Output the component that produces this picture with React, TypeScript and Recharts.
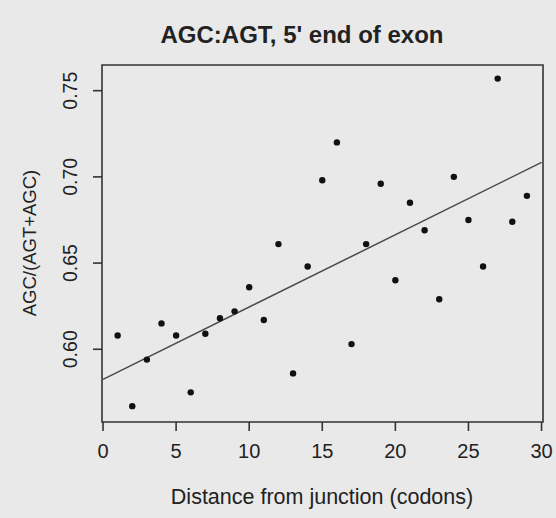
import React from 'react';
import { ScatterChart, Scatter, XAxis, YAxis, ReferenceLine, ReferenceArea } from 'recharts';

// codon distance from the exon junction
const distance = [1, 2, 3, 4, 5, 6, 7, 8, 9, 10, 11, 12, 13, 14, 15, 16, 17, 18, 19, 20, 21, 22, 23, 24, 25, 26, 27, 28, 29];
// AGC / (AGT + AGC) at each distance
const ratio = [
  0.608, 0.567, 0.594, 0.615, 0.608, 0.575, 0.609, 0.618, 0.622, 0.636,
  0.617, 0.661, 0.586, 0.648, 0.698, 0.720, 0.603, 0.661, 0.696, 0.640,
  0.685, 0.669, 0.629, 0.700, 0.675, 0.648, 0.757, 0.674, 0.689,
];
// least-squares fit, evaluated at the ends of the axis
const fitX = [0, 30];
const fitY = [0.5825, 0.7084];

const xTicks = [0, 5, 10, 15, 20, 25, 30];
const yTicks = [0.6, 0.65, 0.7, 0.75];

const xDomain: [number, number] = [-0.07, 30.1];
const yDomain: [number, number] = [0.5578, 0.7649];

const points = distance.map((d, i) => ({ x: d, y: ratio[i] }));

const FONT = '"Liberation Sans", Arial, Helvetica, sans-serif';
const INK = '#222';
const BG = '#e9e9e9';

const Dot = (props: any) => <circle cx={props.cx} cy={props.cy} r={3.2} fill="#111" />;

const YTick = (props: any) => {
  const { x, y, payload } = props;
  return (
    <text
      transform={`translate(${x - 14},${y}) rotate(-90)`}
      textAnchor="middle"
      fontSize={19.5}
      fontFamily={FONT}
      fill={INK}
    >
      {payload.value.toFixed(2)}
    </text>
  );
};

export default function App() {
  return (
    <div style={{ position: 'absolute', left: 0, top: 0, width: 556, height: 518, background: BG, fontFamily: FONT }}>
      <div
        style={{
          position: 'absolute', left: 302, top: 35, transform: 'translate(-50%, -50%)',
          fontSize: 24, fontWeight: 'bold', color: INK, whiteSpace: 'nowrap',
        }}
      >
        AGC:AGT, 5' end of exon
      </div>
      <div
        style={{
          position: 'absolute', left: 322, top: 497, transform: 'translate(-50%, -50%)',
          fontSize: 21.5, color: INK, whiteSpace: 'nowrap',
        }}
      >
        Distance from junction (codons)
      </div>
      <div
        style={{
          position: 'absolute', left: 30, top: 243, transform: 'translate(-50%, -50%) rotate(-90deg)',
          fontSize: 18.5, color: INK, whiteSpace: 'nowrap',
        }}
      >
        AGC/(AGT+AGC)
      </div>
      <ScatterChart width={556} height={518} margin={{ top: 65, right: 13, bottom: 0, left: 0 }}>
        <XAxis
          type="number"
          dataKey="x"
          domain={xDomain}
          ticks={xTicks}
          allowDataOverflow
          height={96}
          tickSize={9}
          tickMargin={13}
          axisLine={false}
          tickLine={{ stroke: '#333', strokeWidth: 1.6 }}
          tick={{ fontSize: 20, fontFamily: FONT, fill: INK }}
        />
        <YAxis
          type="number"
          dataKey="y"
          domain={yDomain}
          ticks={yTicks}
          allowDataOverflow
          width={102}
          tickSize={9}
          axisLine={false}
          tickLine={{ stroke: '#333', strokeWidth: 1.6 }}
          tick={<YTick />}
        />
        <ReferenceArea
          x1={xDomain[0]}
          x2={xDomain[1]}
          y1={yDomain[0]}
          y2={yDomain[1]}
          fill="none"
          stroke="#333"
          strokeWidth={1.6}
          fillOpacity={0}
        />
        <ReferenceLine
          segment={[{ x: fitX[0], y: fitY[0] }, { x: fitX[1], y: fitY[1] }]}
          stroke="#4a4a4a"
          strokeWidth={1.5}
        />
        <Scatter data={points} shape={<Dot />} isAnimationActive={false} />
      </ScatterChart>
    </div>
  );
}
